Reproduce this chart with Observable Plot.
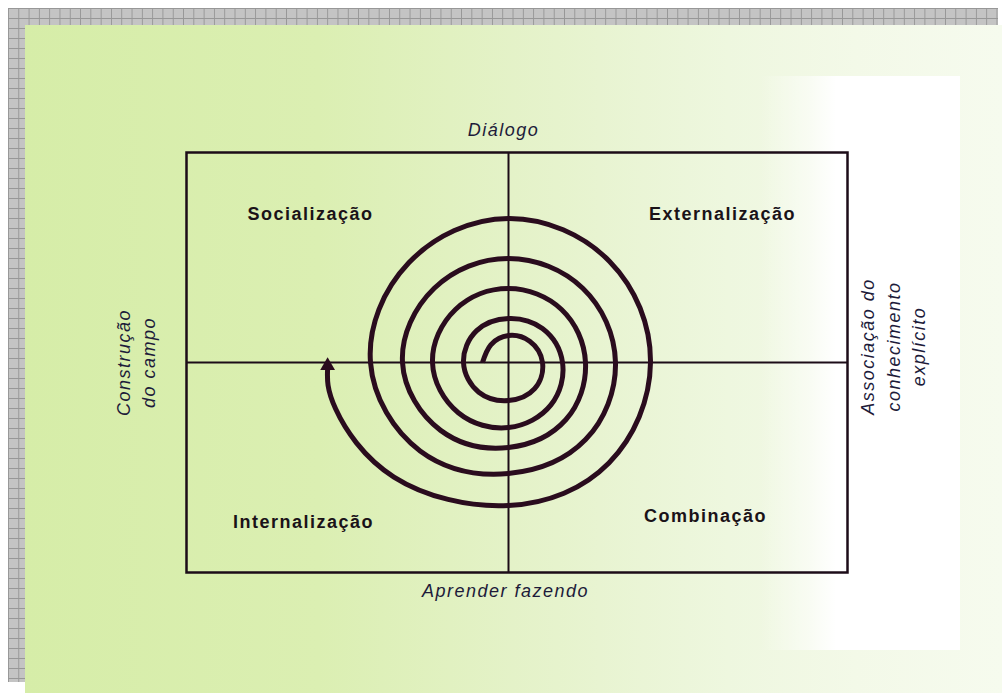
<!DOCTYPE html>
<html>
<head>
<meta charset="utf-8">
<script src="https://cdn.jsdelivr.net/npm/d3@7"></script>
<script src="https://cdn.jsdelivr.net/npm/@observablehq/plot@0.6"></script>
<style>
  html, body { margin: 0; padding: 0; width: 1002px; height: 693px; overflow: hidden; background: #ffffff; }
  .grid { position: absolute; background-color: #c4c4c4;
    background-image: linear-gradient(to right, #979797 1px, transparent 1px),
                      linear-gradient(to bottom, #979797 1px, transparent 1px);
    background-size: 10.3px 10px; }
  #gridTop { left: 8px; top: 8px; width: 990px; height: 17px; background-position: 0 0; }
  #gridLeft { left: 8px; top: 8px; width: 17px; height: 674px; background-position: 0 0; }
  #green { position: absolute; left: 25px; top: 25px; width: 977px; height: 668px;
    background: linear-gradient(to right, #d6eda8 0%, #dbefb2 30%, #e4f2c8 50%, #eef7df 72%, #f3f9e8 85%, #f6fbee 100%); }
  #white { position: absolute; left: 760px; top: 76px; width: 200px; height: 574px;
    background: linear-gradient(to right, rgba(255,255,255,0) 0%, rgba(255,255,255,0.55) 25%, #ffffff 38%, #ffffff 100%); }
  #chart { position: absolute; left: 0; top: 0; }
  #chart svg text { letter-spacing: 1.5px; }
</style>
</head>
<body>
<div id="green"></div>
<div id="white"></div>
<div class="grid" id="gridTop"></div>
<div class="grid" id="gridLeft"></div>
<div id="chart"></div>
<script>
// Quadrant labels (SECI model)
const quadrantLabels = ["Socialização", "Externalização", "Internalização", "Combinação"];
const quadrantX = [-198, 214, -205, 197];
const quadrantY = [148, 148, -160, -154];

// Axis captions (top / bottom)
const axisLabels = ["Diálogo", "Aprender fazendo"];
const axisLabelX = [-5, -3];
const axisLabelY = [232, -229];

// Side captions (vertical)
const sideLabels = ["Construção\ndo campo", "Associação do\nconhecimento\nexplícito"];
const sideLabelX = [-374, 383];
const sideLabelY = [0, 16];

// Spiral: angle (degrees, clockwise on screen) and radius
const spiralAngle = [180, 135, 90, 45, 0, -45, -90, -135, -180, -225, -270, -315, -360, -405, -450, -495,
  -540, -585, -630, -675, -720, -765, -810, -855, -900, -945, -990, -1035, -1080, -1125, -1170, -1215,
  -1260, -1305, -1350, -1395, -1440, -1485, -1530, -1575, -1605, -1618];
const spiralRadius = [26, 25, 27, 30, 34, 37, 38, 42, 45, 45, 44, 48, 54, 60, 65, 71,
  76, 75, 74, 75, 77, 81, 85, 96, 106, 105, 104, 105, 107, 109, 111, 125,
  138, 141, 144, 143, 142, 142, 143, 162, 179, 181];

const spiral = spiralAngle.map((a, i) => ({
  x: spiralRadius[i] * Math.cos(a * Math.PI / 180),
  y: spiralRadius[i] * Math.sin(a * Math.PI / 180)
}));
const spiralEnd = [spiral[spiral.length - 1]];

const quadrants = quadrantLabels.map((t, i) => ({t, x: quadrantX[i], y: quadrantY[i]}));
const axes = axisLabels.map((t, i) => ({t, x: axisLabelX[i], y: axisLabelY[i]}));
const sides = sideLabels.map((t, i) => ({t, x: sideLabelX[i], y: sideLabelY[i]}));

const ink = "#1c0c18";
const chart = Plot.plot({
  width: 1002,
  height: 693,
  marginLeft: 186,
  marginRight: 155,
  marginTop: 152,
  marginBottom: 121,
  style: {background: "none", overflow: "visible", fontFamily: "Liberation Sans, Arial, sans-serif"},
  x: {domain: [-322, 339], axis: null},
  y: {domain: [-210, 210], axis: null},
  marks: [
    Plot.frame({stroke: ink, strokeWidth: 2.5}),
    Plot.ruleX([0], {stroke: ink, strokeWidth: 2}),
    Plot.ruleY([0], {stroke: ink, strokeWidth: 2}),
    Plot.line(spiral, {x: "x", y: "y", curve: "natural", stroke: "#2a0c1e", strokeWidth: 5, strokeLinecap: "butt"}),
    Plot.dot(spiralEnd, {x: "x", y: "y", symbol: "triangle", r: 5.5, fill: "#2a0c1e", stroke: "none", dy: -3}),
    Plot.text(quadrants, {x: "x", y: "y", text: "t", fontSize: 18, fontWeight: "bold", fill: "#1a1218",
      fontFamily: "Liberation Sans, Arial, sans-serif"}),
    Plot.text(axes, {x: "x", y: "y", text: "t", fontSize: 18, fontStyle: "italic", fill: "#1d1b3a",
      fontFamily: "Liberation Sans, Arial, sans-serif"}),
    Plot.text(sides, {x: "x", y: "y", text: "t", fontSize: 18, fontStyle: "italic", fill: "#1d1b3a",
      rotate: -90, lineHeight: 1.42, fontFamily: "Liberation Sans, Arial, sans-serif"})
  ]
});
document.getElementById("chart").appendChild(chart);
</script>
</body>
</html>
